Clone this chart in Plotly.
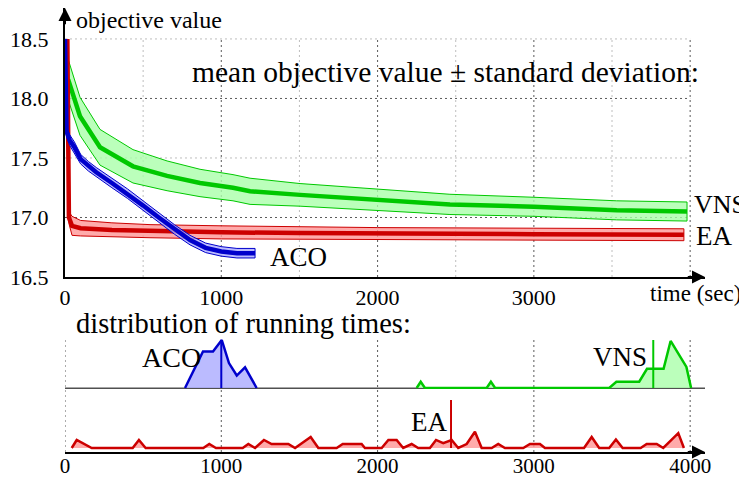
import plotly.graph_objects as go

# ---------------- data ----------------
# convergence: mean objective value and standard deviation over time (sec)
VNS_t    = [20, 96, 224, 435, 653, 864, 1075, 1184, 1504, 2000, 2463, 3000, 3530, 3980]
VNS_mean = [18.16, 17.85, 17.59, 17.43, 17.35, 17.29, 17.25, 17.22, 17.19, 17.15, 17.11, 17.09, 17.06, 17.05]
VNS_std  = [0.17, 0.16, 0.15, 0.14, 0.125, 0.115, 0.11, 0.11, 0.095, 0.09, 0.085, 0.08, 0.08, 0.08]

EA_t    = [15, 25, 45, 100, 300, 544, 1000, 1500, 2000, 3000, 3960]
EA_mean = [18.5, 17.0, 16.93, 16.91, 16.895, 16.885, 16.875, 16.87, 16.865, 16.86, 16.855]
EA_std  = [0.0, 0.05, 0.08, 0.065, 0.06, 0.055, 0.055, 0.05, 0.05, 0.05, 0.05]

ACO_t    = [0, 10, 30, 60, 100, 150, 200, 300, 400, 500, 600, 700, 800, 900, 1000, 1100, 1216]
ACO_mean = [18.5, 17.72, 17.65, 17.59, 17.49, 17.43, 17.38, 17.29, 17.20, 17.10, 17.00, 16.90,
            16.81, 16.745, 16.715, 16.70, 16.70]
ACO_std  = [0.0, 0.045, 0.045, 0.045, 0.04, 0.04, 0.04, 0.04, 0.04, 0.04, 0.04, 0.04,
            0.04, 0.04, 0.04, 0.04, 0.04]

# distribution of running times (relative height, 1 = height of the median marker)
ACO_rt_x = [768, 883, 947, 1003, 1049, 1099, 1152, 1226]
ACO_rt_h = [0, 0.76, 0.76, 1.0, 0.52, 0.26, 0.43, 0]
ACO_median = 1000

VNS_rt_x = [2250, 2276, 2303, 2698, 2725, 2752, 3482, 3528, 3674, 3724, 3830, 3875, 3976, 4006]
VNS_rt_h = [0, 0.13, 0, 0, 0.13, 0, 0, 0.13, 0.13, 0.40, 0.40, 0.98, 0.44, 0]
VNS_median = 3764

EA_rt_x = [43, 75, 171, 433, 473, 516, 885, 923, 966, 1137, 1173, 1216, 1273, 1322, 1429, 1472,
           1572, 1621, 1738, 1777, 1898, 1919, 2026, 2069, 2122, 2164, 2218, 2260, 2335, 2374,
           2420, 2474, 2516, 2570, 2623, 2666, 2730, 2772, 2815, 2932, 2975, 3039, 3071, 3321,
           3370, 3418, 3482, 3525, 3568, 3683, 3722, 3786, 3828, 3924, 3960]
EA_rt_h = [0, 0.167, 0, 0, 0.167, 0, 0, 0.083, 0, 0, 0.083, 0, 0.167, 0.083, 0.083, 0,
           0.23, 0, 0, 0.083, 0.083, 0, 0, 0.167, 0.167, 0, 0.083, 0, 0, 0.167,
           0.10, 0.167, 0, 0.083, 0.34, 0, 0, 0.083, 0, 0, 0.083, 0.083, 0, 0,
           0.23, 0, 0, 0.177, 0, 0, 0.083, 0.083, 0, 0.31, 0]
EA_median = 2470

y_ticks = [16.5, 17.0, 17.5, 18.0, 18.5]
x_ticks_top = [0, 1000, 2000, 3000]
x_ticks_bottom = [0, 1000, 2000, 3000, 4000]

# ---------------- style / layout helpers ----------------
# the page body has an 8px margin: the figure starts at page pixel (8, 8)
OFF = 8
W, H = 747 - OFF, 480 - OFF
def px(x): return (x - OFF) / W
def py(y): return 1 - (y - OFF) / H

FONT = "Liberation Serif, Times New Roman, DejaVu Serif, serif"
X_MAX = 4095
Y_MIN, Y_MAX = 16.5, 18.76
Y2_RANGE = [-1 / 48, 58 / 48]
Y3_RANGE = [-4 / 48, 53 / 48]

GREEN, GREEN_F = "rgb(0,200,0)", "rgba(170,255,170,0.8)"
RED, RED_F = "rgb(204,0,0)", "rgba(255,150,150,0.8)"
BLUE, BLUE_F = "rgb(0,0,204)", "rgba(170,170,255,0.8)"

fig = go.Figure()

def band(t, m, s, lc, fc):
    up = [a + b for a, b in zip(m, s)]
    lo = [a - b for a, b in zip(m, s)]
    fig.add_trace(go.Scatter(x=t + t[::-1], y=up + lo[::-1], mode="lines", fill="toself",
                             fillcolor=fc, line=dict(color=lc, width=1), hoverinfo="skip",
                             showlegend=False, xaxis="x", yaxis="y"))
    fig.add_trace(go.Scatter(x=t, y=m, mode="lines", line=dict(color=lc, width=4.5),
                             showlegend=False, xaxis="x", yaxis="y"))

band(VNS_t, VNS_mean, VNS_std, GREEN, GREEN_F)
band(EA_t, EA_mean, EA_std, RED, RED_F)
band(ACO_t, ACO_mean, ACO_std, BLUE, BLUE_F)

def dist(xs, hs, med, lc, fc, ya):
    fig.add_trace(go.Scatter(x=xs, y=hs, mode="lines", fill="toself", fillcolor=fc,
                             line=dict(color=lc, width=2.5), showlegend=False,
                             xaxis="x2", yaxis=ya))
    fig.add_trace(go.Scatter(x=[med, med], y=[0, 1], mode="lines",
                             line=dict(color=lc, width=2), showlegend=False,
                             xaxis="x2", yaxis=ya))

dist(ACO_rt_x, ACO_rt_h, ACO_median, BLUE, BLUE_F, "y2")
dist(VNS_rt_x, VNS_rt_h, VNS_median, GREEN, GREEN_F, "y2")
dist(EA_rt_x, EA_rt_h, EA_median, RED, RED_F, "y3")

shapes = []
DASH = "2px,3px"
# top grid
for gx in range(500, 4001, 500):
    col = "rgb(90,90,90)" if gx % 1000 == 0 else "rgb(190,190,190)"
    shapes.append(dict(type="line", xref="x", yref="y", x0=gx, x1=gx, y0=16.5, y1=18.5,
                       line=dict(color=col, width=1, dash=DASH), layer="below"))
for gy in [17.0, 17.5, 18.0, 18.5]:
    col = "rgb(90,90,90)" if abs(gy - round(gy)) < 1e-9 else "rgb(190,190,190)"
    shapes.append(dict(type="line", xref="x", yref="y", x0=0, x1=4000, y0=gy, y1=gy,
                       line=dict(color=col, width=1, dash=DASH), layer="below"))
# bottom grid
for gx in x_ticks_bottom:
    shapes.append(dict(type="line", xref="x2", yref="paper", x0=gx, x1=gx, y0=py(452), y1=py(337),
                       line=dict(color="rgb(90,90,90)", width=1, dash=DASH), layer="below"))
# baseline of upper distribution row
shapes.append(dict(type="line", xref="x2", yref="y2", x0=0, x1=X_MAX, y0=Y2_RANGE[0] / 2,
                   y1=Y2_RANGE[0] / 2, line=dict(color="rgb(80,80,80)", width=2), layer="below"))

annotations = []
def arrow(x, y, ax, ay, xr, yr):
    annotations.append(dict(x=x, y=y, ax=ax, ay=ay, xref=xr, yref=yr, axref=xr, ayref=yr,
                            text="", showarrow=True, arrowhead=2, arrowsize=1.3,
                            arrowwidth=2, arrowcolor="black", standoff=0))
arrow(0, Y_MAX, 0, Y_MAX - 0.15, "x", "y")
arrow(X_MAX, Y_MIN, X_MAX - 120, Y_MIN, "x", "y")
arrow(X_MAX, Y3_RANGE[0], X_MAX - 120, Y3_RANGE[0], "x2", "y3")

def label(text, x, y, size, xanchor="left"):
    annotations.append(dict(text=text, x=px(x), y=py(y), xref="paper", yref="paper",
                            xanchor=xanchor, yanchor="middle", showarrow=False,
                            font=dict(family=FONT, size=size, color="black")))

label("objective value", 74, 20, 24)
label("mean objective value ± standard deviation:", 190, 72, 29.5)
label("VNS", 692, 204, 26)
label("EA", 694, 236, 27)
label("ACO", 268, 257, 27)
label("time (sec)", 648, 293, 23)
label("distribution of running times:", 74, 323, 28.5)
label("ACO", 203, 357, 28, "right")
label("VNS", 649, 357, 27, "right")
label("EA", 449, 422, 27, "right")

tickfont = dict(family=FONT, size=22, color="black")
tickfont_bottom = dict(family=FONT, size=21, color="black")
axis_common = dict(showgrid=False, zeroline=False, automargin=False)
fig.update_layout(
    width=W, height=H, margin=dict(l=0, r=0, t=0, b=0, autoexpand=False),
    paper_bgcolor="white", plot_bgcolor="white", showlegend=False,
    font=dict(family=FONT, color="black"),
    shapes=shapes, annotations=annotations,
    xaxis=dict(domain=[px(65), px(705)], range=[0, X_MAX], anchor="y",
               tickmode="array", tickvals=x_ticks_top, ticktext=[str(v) for v in x_ticks_top],
               showline=True, linecolor="black", linewidth=2,
               ticks="", tickfont=tickfont, ticklabelstandoff=0, **axis_common),
    yaxis=dict(domain=[py(277), py(8)], range=[Y_MIN, Y_MAX], anchor="x",
               tickmode="array", tickvals=y_ticks, ticktext=[f"{v:.1f}" for v in y_ticks],
               showline=True, linecolor="black", linewidth=2,
               ticks="", tickfont=tickfont, ticklabelstandoff=10, **axis_common),
    xaxis2=dict(domain=[px(65), px(705)], range=[0, X_MAX], anchor="y3",
                tickmode="array", tickvals=x_ticks_bottom, ticktext=[str(v) for v in x_ticks_bottom],
                showline=True, linecolor="black", linewidth=2,
                ticks="", tickfont=tickfont_bottom, ticklabelstandoff=-6, **axis_common),
    yaxis2=dict(domain=[py(389), py(330)], range=Y2_RANGE, visible=False, anchor="x2", **axis_common),
    yaxis3=dict(domain=[py(452), py(395)], range=Y3_RANGE, visible=False, anchor="x2", **axis_common),
)

fig.write_html("out.html")
